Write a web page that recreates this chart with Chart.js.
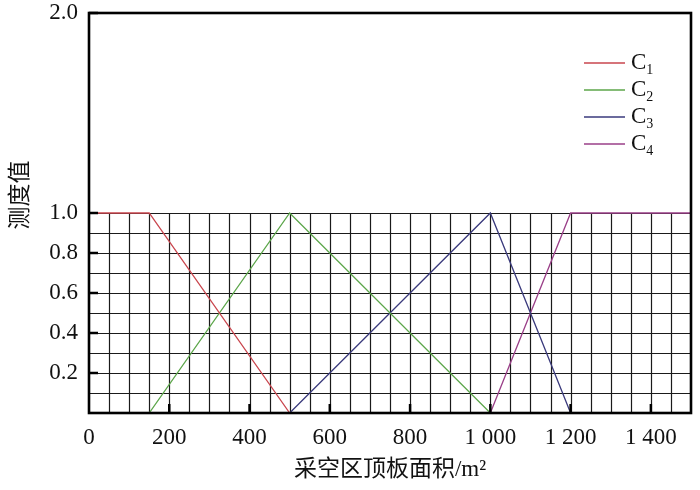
<!DOCTYPE html>
<html>
<head>
<meta charset="utf-8">
<script src="https://cdn.jsdelivr.net/npm/chart.js@4"></script>
<style>
  html, body { margin: 0; padding: 0; background: #fff; }
  #wrap { width: 700px; height: 490px; }
</style>
</head>
<body>
<div id="wrap"><canvas id="myChart"></canvas></div>
<script>
// data
const seriesNames = ['C1', 'C2', 'C3', 'C4'];
const seriesColors = ['#c9464e', '#5ca64a', '#3a3a7c', '#9a3f88'];
const c1X = [0, 150, 500];
const c1Y = [1, 1, 0];
const c2X = [150, 500, 1000];
const c2Y = [0, 1, 0];
const c3X = [500, 1000, 1200];
const c3Y = [0, 1, 0];
const c4X = [1000, 1200, 1500];
const c4Y = [0, 1, 1];
const xTicks = [0, 200, 400, 600, 800, 1000, 1200, 1400];
const yTicks = [0.2, 0.4, 0.6, 0.8, 1.0, 2.0];
const xTitle = '采空区顶板面积/m²';
const yTitle = '测度值';

const serif = "'Liberation Serif', 'DejaVu Serif', 'Noto Sans CJK SC', serif";

function toPoints(xs, ys) {
    return xs.map(function (x, i) { return { x: x, y: ys[i] }; });
}

var allX = [c1X, c2X, c3X, c4X];
var allY = [c1Y, c2Y, c3Y, c4Y];
var datasets = seriesNames.map(function (name, i) {
    return {
        label: name,
        data: toPoints(allX[i], allY[i]),
        borderColor: seriesColors[i],
        borderWidth: 1.3,
        pointRadius: 0,
        fill: false,
        tension: 0
    };
});

// grid only inside the 0..1 band, inward tick marks, box frame
var gridPlugin = {
    id: 'cellGrid',
    beforeDatasetsDraw: function (chart) {
        var ctx = chart.ctx;
        var xs = chart.scales.x, ys = chart.scales.y;
        var a = chart.chartArea;
        ctx.save();
        ctx.strokeStyle = '#1a1a1a';
        ctx.lineWidth = 1.2;
        var top = ys.getPixelForValue(1);
        var bot = ys.getPixelForValue(0);
        for (var v = 50; v < 1500; v += 50) {
            var px = Math.round(xs.getPixelForValue(v)) + 0.5;
            ctx.beginPath(); ctx.moveTo(px, top); ctx.lineTo(px, bot); ctx.stroke();
        }
        for (var k = 1; k <= 10; k++) {
            var py = Math.round(ys.getPixelForValue(k / 10)) + 0.5;
            ctx.beginPath(); ctx.moveTo(a.left, py); ctx.lineTo(a.right, py); ctx.stroke();
        }
        ctx.restore();
    },
    afterDatasetsDraw: function (chart) {
        var ctx = chart.ctx;
        var xs = chart.scales.x, ys = chart.scales.y;
        var a = chart.chartArea;
        ctx.save();
        ctx.strokeStyle = '#000';
        ctx.lineWidth = 2.5;
        xTicks.forEach(function (t) {
            if (t === 0) return;
            var px = xs.getPixelForValue(t);
            ctx.beginPath(); ctx.moveTo(px, a.bottom); ctx.lineTo(px, a.bottom - 9); ctx.stroke();
        });
        yTicks.forEach(function (t) {
            var py = ys.getPixelForValue(t);
            ctx.beginPath(); ctx.moveTo(a.left, py); ctx.lineTo(a.left + 9, py); ctx.stroke();
        });
        ctx.lineWidth = 2.6;
        ctx.strokeRect(a.left, a.top, a.right - a.left, a.bottom - a.top);
        ctx.restore();
    }
};

// legend in the upper right with subscript numbers
var legendPlugin = {
    id: 'subLegend',
    afterDraw: function (chart) {
        var ctx = chart.ctx;
        ctx.save();
        chart.data.datasets.forEach(function (ds, i) {
            var y = 63 + i * 27;
            ctx.strokeStyle = ds.borderColor;
            ctx.lineWidth = 1.5;
            ctx.beginPath(); ctx.moveTo(584, y); ctx.lineTo(625, y); ctx.stroke();
            ctx.fillStyle = '#111';
            ctx.textBaseline = 'middle';
            ctx.font = '23px ' + serif;
            ctx.fillText(ds.label.charAt(0), 631, y);
            var w = ctx.measureText(ds.label.charAt(0)).width;
            ctx.font = '14px ' + serif;
            ctx.fillText(ds.label.slice(1), 631 + w, y + 7);
        });
        ctx.restore();
    }
};

// y title sits a bit above the middle in the picture
var yTitlePlugin = {
    id: 'yTitle',
    afterDraw: function (chart) {
        var ctx = chart.ctx;
        ctx.save();
        ctx.translate(21, 195);
        ctx.rotate(-Math.PI / 2);
        ctx.fillStyle = '#111';
        ctx.font = '23px ' + serif;
        ctx.textAlign = 'center';
        ctx.textBaseline = 'middle';
        ctx.fillText(yTitle, 0, 0);
        ctx.restore();
    }
};

const ctx = document.getElementById('myChart');

var myChart = new Chart(ctx, {
    type: 'line',
    data: { datasets: datasets },
    options: {
        responsive: true,
        maintainAspectRatio: false,
        animation: false,
        layout: { padding: { left: 0, right: 9, top: 13, bottom: 6 } },
        plugins: {
            legend: { display: false },
            tooltip: { enabled: false }
        },
        scales: {
            x: {
                type: 'linear',
                min: 0,
                max: 1500,
                afterBuildTicks: function (scale) {
                    scale.ticks = xTicks.map(function (v) { return { value: v }; });
                },
                ticks: {
                    color: '#111',
                    font: { family: serif, size: 23 },
                    padding: 11,
                    maxRotation: 0,
                    callback: function (v) {
                        return v >= 1000 ? Math.floor(v / 1000) + ' ' + String(v % 1000).padStart(3, '0') : String(v);
                    }
                },
                grid: { display: false, drawTicks: false },
                border: { display: false },
                title: {
                    display: true,
                    text: xTitle,
                    color: '#111',
                    font: { family: serif, size: 23 },
                    padding: { top: 4, bottom: 0 }
                },
                afterFit: function (scale) {
                    scale.height = 71;
                    scale.paddingLeft = 0;
                    scale.paddingRight = 0;
                }
            },
            y: {
                type: 'linear',
                min: 0,
                max: 2,
                afterBuildTicks: function (scale) {
                    scale.ticks = yTicks.map(function (v) { return { value: v }; });
                },
                ticks: {
                    color: '#111',
                    font: { family: serif, size: 23 },
                    padding: 11,
                    callback: function (v) { return Number(v).toFixed(1); }
                },
                grid: { display: false, drawTicks: false },
                border: { display: false },
                afterFit: function (scale) {
                    scale.width = 89;
                    scale.paddingTop = 0;
                    scale.paddingBottom = 0;
                }
            }
        }
    },
    plugins: [gridPlugin, legendPlugin, yTitlePlugin]
});
</script>
</body>
</html>
